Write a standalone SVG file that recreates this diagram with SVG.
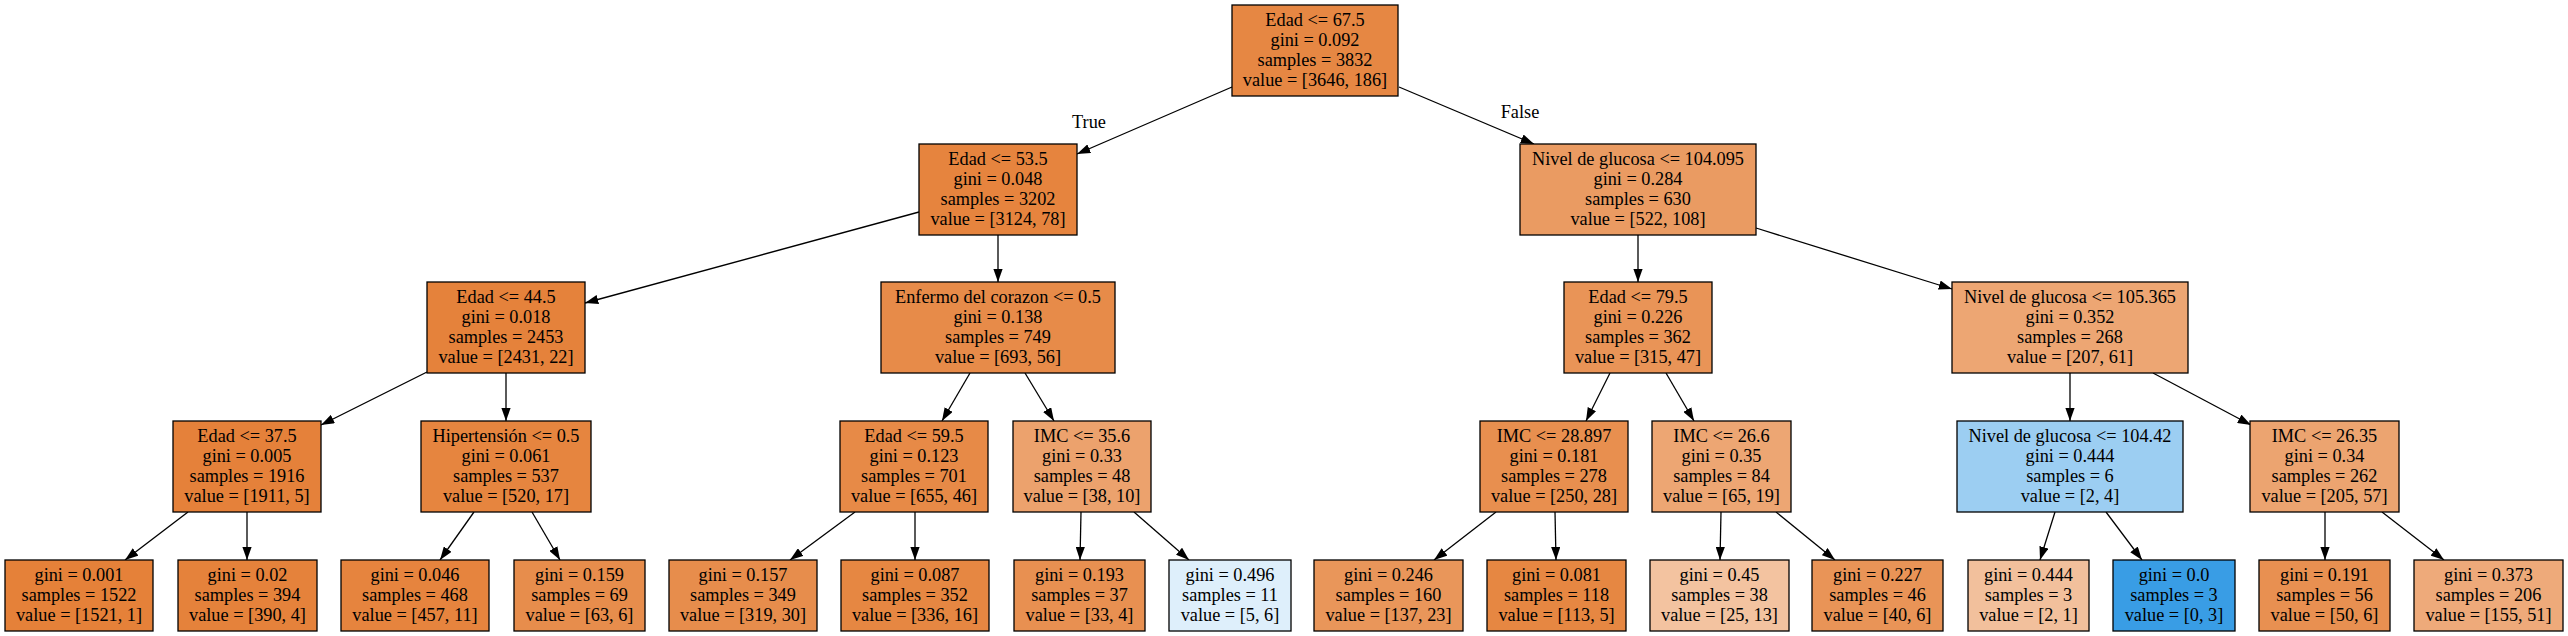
<svg xmlns="http://www.w3.org/2000/svg" width="2568" height="636" viewBox="0 0 2568 636">
<style>
.n rect{stroke:#000;stroke-width:1.3}
.n text,.lbl{font-family:"Liberation Serif","Times New Roman",serif;font-size:18.3px;text-anchor:middle;fill:#000}
.e line{stroke:#000;stroke-width:1.3;marker-end:url(#ah)}
</style>
<defs>
<marker id="ah" viewBox="0 0 13.3 9.4" refX="13.3" refY="4.7" markerWidth="13.3" markerHeight="9.4" markerUnits="userSpaceOnUse" orient="auto">
<path d="M0,0 L13.3,4.7 L0,9.4 z" fill="#000"/>
</marker>
</defs>
<rect width="2568" height="636" fill="#fff"/>
<g id="edges" class="e">
<line x1="1232" y1="87" x2="1077" y2="154"/>
<line x1="1399" y1="87" x2="1534" y2="144"/>
<line x1="919" y1="212" x2="585" y2="303"/>
<line x1="998" y1="235" x2="998" y2="282"/>
<line x1="1638" y1="235" x2="1638" y2="282"/>
<line x1="1756" y1="228" x2="1952" y2="289"/>
<line x1="427" y1="372" x2="321" y2="425"/>
<line x1="506" y1="373" x2="506" y2="421"/>
<line x1="970" y1="373" x2="942" y2="421"/>
<line x1="1025" y1="373" x2="1054" y2="421"/>
<line x1="1610" y1="373" x2="1586" y2="421"/>
<line x1="1666" y1="373" x2="1694" y2="421"/>
<line x1="2070" y1="373" x2="2070" y2="421"/>
<line x1="2153" y1="373" x2="2251" y2="425"/>
<line x1="188" y1="512" x2="125" y2="560"/>
<line x1="247" y1="512" x2="247" y2="560"/>
<line x1="474" y1="512" x2="440" y2="560"/>
<line x1="532" y1="512" x2="560" y2="560"/>
<line x1="855" y1="512" x2="790" y2="560"/>
<line x1="915" y1="512" x2="915" y2="560"/>
<line x1="1081" y1="512" x2="1080" y2="560"/>
<line x1="1134" y1="512" x2="1189" y2="560"/>
<line x1="1496" y1="512" x2="1434" y2="560"/>
<line x1="1555" y1="512" x2="1556" y2="560"/>
<line x1="1721" y1="512" x2="1720" y2="560"/>
<line x1="1776" y1="512" x2="1835" y2="560"/>
<line x1="2055" y1="512" x2="2040" y2="560"/>
<line x1="2106" y1="512" x2="2142" y2="560"/>
<line x1="2325" y1="512" x2="2325" y2="560"/>
<line x1="2382" y1="512" x2="2444" y2="560"/>
<text class="lbl" x="1089" y="128">True</text>
<text class="lbl" x="1520" y="118">False</text>
</g>
<g id="n0" class="n"><rect x="1232" y="5" width="166" height="91" fill="#e68743"/><text x="1315" y="26">Edad &lt;= 67.5</text><text x="1315" y="46">gini = 0.092</text><text x="1315" y="66">samples = 3832</text><text x="1315" y="86">value = [3646, 186]</text></g>
<g id="n1" class="n"><rect x="919" y="144" width="158" height="91" fill="#e6843e"/><text x="998" y="165">Edad &lt;= 53.5</text><text x="998" y="185">gini = 0.048</text><text x="998" y="205">samples = 3202</text><text x="998" y="225">value = [3124, 78]</text></g>
<g id="n2" class="n"><rect x="1520" y="144" width="236" height="91" fill="#ea9b62"/><text x="1638" y="165">Nivel de glucosa &lt;= 104.095</text><text x="1638" y="185">gini = 0.284</text><text x="1638" y="205">samples = 630</text><text x="1638" y="225">value = [522, 108]</text></g>
<g id="n3" class="n"><rect x="427" y="282" width="158" height="91" fill="#e5823b"/><text x="506" y="303">Edad &lt;= 44.5</text><text x="506" y="323">gini = 0.018</text><text x="506" y="343">samples = 2453</text><text x="506" y="363">value = [2431, 22]</text></g>
<g id="n4" class="n"><rect x="881" y="282" width="234" height="91" fill="#e78b49"/><text x="998" y="303">Enfermo del corazon &lt;= 0.5</text><text x="998" y="323">gini = 0.138</text><text x="998" y="343">samples = 749</text><text x="998" y="363">value = [693, 56]</text></g>
<g id="n5" class="n"><rect x="1564" y="282" width="148" height="91" fill="#e99457"/><text x="1638" y="303">Edad &lt;= 79.5</text><text x="1638" y="323">gini = 0.226</text><text x="1638" y="343">samples = 362</text><text x="1638" y="363">value = [315, 47]</text></g>
<g id="n6" class="n"><rect x="1952" y="282" width="236" height="91" fill="#eda673"/><text x="2070" y="303">Nivel de glucosa &lt;= 105.365</text><text x="2070" y="323">gini = 0.352</text><text x="2070" y="343">samples = 268</text><text x="2070" y="363">value = [207, 61]</text></g>
<g id="n7" class="n"><rect x="173" y="421" width="148" height="91" fill="#e5813a"/><text x="247" y="442">Edad &lt;= 37.5</text><text x="247" y="462">gini = 0.005</text><text x="247" y="482">samples = 1916</text><text x="247" y="502">value = [1911, 5]</text></g>
<g id="n8" class="n"><rect x="421" y="421" width="170" height="91" fill="#e6853f"/><text x="506" y="442">Hipertensión &lt;= 0.5</text><text x="506" y="462">gini = 0.061</text><text x="506" y="482">samples = 537</text><text x="506" y="502">value = [520, 17]</text></g>
<g id="n9" class="n"><rect x="840" y="421" width="148" height="91" fill="#e78a47"/><text x="914" y="442">Edad &lt;= 59.5</text><text x="914" y="462">gini = 0.123</text><text x="914" y="482">samples = 701</text><text x="914" y="502">value = [655, 46]</text></g>
<g id="n10" class="n"><rect x="1013" y="421" width="138" height="91" fill="#eca26d"/><text x="1082" y="442">IMC &lt;= 35.6</text><text x="1082" y="462">gini = 0.33</text><text x="1082" y="482">samples = 48</text><text x="1082" y="502">value = [38, 10]</text></g>
<g id="n11" class="n"><rect x="1480" y="421" width="148" height="91" fill="#e88f4f"/><text x="1554" y="442">IMC &lt;= 28.897</text><text x="1554" y="462">gini = 0.181</text><text x="1554" y="482">samples = 278</text><text x="1554" y="502">value = [250, 28]</text></g>
<g id="n12" class="n"><rect x="1652" y="421" width="139" height="91" fill="#eda673"/><text x="1721.5" y="442">IMC &lt;= 26.6</text><text x="1721.5" y="462">gini = 0.35</text><text x="1721.5" y="482">samples = 84</text><text x="1721.5" y="502">value = [65, 19]</text></g>
<g id="n13" class="n"><rect x="1957" y="421" width="226" height="91" fill="#9ccef2"/><text x="2070" y="442">Nivel de glucosa &lt;= 104.42</text><text x="2070" y="462">gini = 0.444</text><text x="2070" y="482">samples = 6</text><text x="2070" y="502">value = [2, 4]</text></g>
<g id="n14" class="n"><rect x="2250" y="421" width="149" height="91" fill="#eca470"/><text x="2324.5" y="442">IMC &lt;= 26.35</text><text x="2324.5" y="462">gini = 0.34</text><text x="2324.5" y="482">samples = 262</text><text x="2324.5" y="502">value = [205, 57]</text></g>
<g id="n15" class="n"><rect x="5" y="560" width="148" height="71" fill="#e58139"/><text x="79" y="581">gini = 0.001</text><text x="79" y="601">samples = 1522</text><text x="79" y="621">value = [1521, 1]</text></g>
<g id="n16" class="n"><rect x="178" y="560" width="139" height="71" fill="#e5823b"/><text x="247.5" y="581">gini = 0.02</text><text x="247.5" y="601">samples = 394</text><text x="247.5" y="621">value = [390, 4]</text></g>
<g id="n17" class="n"><rect x="341" y="560" width="148" height="71" fill="#e6843e"/><text x="415" y="581">gini = 0.046</text><text x="415" y="601">samples = 468</text><text x="415" y="621">value = [457, 11]</text></g>
<g id="n18" class="n"><rect x="514" y="560" width="131" height="71" fill="#e78d4c"/><text x="579.5" y="581">gini = 0.159</text><text x="579.5" y="601">samples = 69</text><text x="579.5" y="621">value = [63, 6]</text></g>
<g id="n19" class="n"><rect x="669" y="560" width="148" height="71" fill="#e78d4c"/><text x="743" y="581">gini = 0.157</text><text x="743" y="601">samples = 349</text><text x="743" y="621">value = [319, 30]</text></g>
<g id="n20" class="n"><rect x="841" y="560" width="148" height="71" fill="#e68742"/><text x="915" y="581">gini = 0.087</text><text x="915" y="601">samples = 352</text><text x="915" y="621">value = [336, 16]</text></g>
<g id="n21" class="n"><rect x="1014" y="560" width="131" height="71" fill="#e89051"/><text x="1079.5" y="581">gini = 0.193</text><text x="1079.5" y="601">samples = 37</text><text x="1079.5" y="621">value = [33, 4]</text></g>
<g id="n22" class="n"><rect x="1169" y="560" width="122" height="71" fill="#deeffb"/><text x="1230" y="581">gini = 0.496</text><text x="1230" y="601">samples = 11</text><text x="1230" y="621">value = [5, 6]</text></g>
<g id="n23" class="n"><rect x="1314" y="560" width="149" height="71" fill="#e9965a"/><text x="1388.5" y="581">gini = 0.246</text><text x="1388.5" y="601">samples = 160</text><text x="1388.5" y="621">value = [137, 23]</text></g>
<g id="n24" class="n"><rect x="1487" y="560" width="139" height="71" fill="#e68742"/><text x="1556.5" y="581">gini = 0.081</text><text x="1556.5" y="601">samples = 118</text><text x="1556.5" y="621">value = [113, 5]</text></g>
<g id="n25" class="n"><rect x="1650" y="560" width="139" height="71" fill="#f3c3a0"/><text x="1719.5" y="581">gini = 0.45</text><text x="1719.5" y="601">samples = 38</text><text x="1719.5" y="621">value = [25, 13]</text></g>
<g id="n26" class="n"><rect x="1812" y="560" width="131" height="71" fill="#e99457"/><text x="1877.5" y="581">gini = 0.227</text><text x="1877.5" y="601">samples = 46</text><text x="1877.5" y="621">value = [40, 6]</text></g>
<g id="n27" class="n"><rect x="1968" y="560" width="121" height="71" fill="#f2c09c"/><text x="2028.5" y="581">gini = 0.444</text><text x="2028.5" y="601">samples = 3</text><text x="2028.5" y="621">value = [2, 1]</text></g>
<g id="n28" class="n"><rect x="2113" y="560" width="122" height="71" fill="#399de5"/><text x="2174" y="581">gini = 0.0</text><text x="2174" y="601">samples = 3</text><text x="2174" y="621">value = [0, 3]</text></g>
<g id="n29" class="n"><rect x="2259" y="560" width="131" height="71" fill="#e89051"/><text x="2324.5" y="581">gini = 0.191</text><text x="2324.5" y="601">samples = 56</text><text x="2324.5" y="621">value = [50, 6]</text></g>
<g id="n30" class="n"><rect x="2414" y="560" width="149" height="71" fill="#eeaa7a"/><text x="2488.5" y="581">gini = 0.373</text><text x="2488.5" y="601">samples = 206</text><text x="2488.5" y="621">value = [155, 51]</text></g>
</svg>
